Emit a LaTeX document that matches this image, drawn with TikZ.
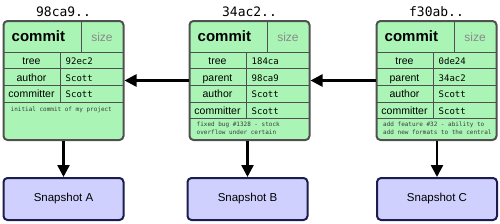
\documentclass[tikz,border=0pt]{standalone}
\usepackage{fontspec}
\setmainfont{Liberation Sans}
\setsansfont{Liberation Sans}
\setmonofont{DejaVu Sans Mono}
\usetikzlibrary{arrows.meta}
\definecolor{commitfill}{HTML}{AAF5B5}
\definecolor{commitline}{HTML}{505050}
\definecolor{snapfill}{HTML}{D0D0FF}
\definecolor{snapline}{HTML}{1C1C4E}
\definecolor{sizegray}{HTML}{8A8A8A}
\definecolor{msggray}{HTML}{3A3A3A}

\begin{document}
\begin{tikzpicture}[x=1pt, y=1pt,
    commit/.style={draw=commitline, fill=commitfill, rounded corners=4pt,
                   line width=2pt, minimum width=120pt, minimum height=119pt,
                   inner sep=0pt},
    snap/.style={draw=snapline, fill=snapfill, rounded corners=4pt,
                 line width=2pt, minimum width=120pt, minimum height=42pt,
                 inner sep=0pt, font=\fontsize{11.5}{13}\selectfont},
    grid/.style={draw=commitline, line width=1pt},
    hash/.style={anchor=base, inner sep=0pt,
                 font=\fontsize{13}{15}\selectfont\ttfamily},
    title/.style={anchor=base west, inner sep=0pt,
                  font=\fontsize{15}{17}\selectfont\bfseries},
    size/.style={anchor=base, inner sep=0pt, text=sizegray,
                 font=\fontsize{12}{14}\selectfont},
    field/.style={anchor=base, inner sep=0pt,
                  font=\fontsize{10.5}{12}\selectfont},
    value/.style={anchor=base west, inner sep=0pt,
                  font=\fontsize{9}{11}\selectfont\ttfamily},
    msg/.style={anchor=north west, inner sep=0pt, align=left, text=msggray,
                font=\fontsize{6}{8.5}\selectfont\ttfamily},
    arrow/.style={draw=black, line width=2.5pt,
                  -{Triangle[width=12pt,length=12pt]}},
]
\useasboundingbox (0,0) rectangle (500,223);

% Commit 98ca9
\node[hash] (h1) at (63.5,206.5) {98ca9..};
\node[commit] (c1) at (63.5,142.5) {};
\draw[grid] (3.5,171) -- +(120,0);
\draw[grid] (3.5,154.3) -- +(120,0);
\draw[grid] (3.5,137.6) -- +(120,0);
\draw[grid] (3.5,120.9) -- +(120,0);
\draw[grid] (81.5,202) -- (81.5,171);
\draw[grid] (60.5,171) -- (60.5,120.9);
\node[title] (t1) at (11.5,181.3) {commit};
\node[size] (z1) at (102,181.3) {size};
\node[field] (f11) at (31.5,158.6) {tree};
\node[field] (f12) at (31.5,141.9) {author};
\node[field] (f13) at (31.5,125.2) {committer};
\node[value] (v11) at (65.5,158.6) {92ec2};
\node[value] (v12) at (65.5,141.9) {Scott};
\node[value] (v13) at (65.5,125.2) {Scott};
\node[msg] (m1) at (10.5,116.5) {initial commit of my project};

% Commit 34ac2
\node[hash] (h2) at (249.5,206.5) {34ac2..};
\node[commit] (c2) at (249.5,142.5) {};
\draw[grid] (189.5,171) -- +(120,0);
\draw[grid] (189.5,154.3) -- +(120,0);
\draw[grid] (189.5,137.6) -- +(120,0);
\draw[grid] (189.5,120.9) -- +(120,0);
\draw[grid] (189.5,104.2) -- +(120,0);
\draw[grid] (267.5,202) -- (267.5,171);
\draw[grid] (246.5,171) -- (246.5,104.2);
\node[title] (t2) at (197.5,181.3) {commit};
\node[size] (z2) at (288,181.3) {size};
\node[field] (f21) at (217.5,158.6) {tree};
\node[field] (f22) at (217.5,141.9) {parent};
\node[field] (f23) at (217.5,125.2) {author};
\node[field] (f24) at (217.5,108.5) {committer};
\node[value] (v21) at (251.5,158.6) {184ca};
\node[value] (v22) at (251.5,141.9) {98ca9};
\node[value] (v23) at (251.5,125.2) {Scott};
\node[value] (v24) at (251.5,108.5) {Scott};
\node[msg] (m2) at (196.5,101.5) {fixed bug \#1328 - stock\\overflow under certain};

% Commit f30ab
\node[hash] (h3) at (436.5,206.5) {f30ab..};
\node[commit] (c3) at (436.5,142.5) {};
\draw[grid] (376.5,171) -- +(120,0);
\draw[grid] (376.5,154.3) -- +(120,0);
\draw[grid] (376.5,137.6) -- +(120,0);
\draw[grid] (376.5,120.9) -- +(120,0);
\draw[grid] (376.5,104.2) -- +(120,0);
\draw[grid] (454.5,202) -- (454.5,171);
\draw[grid] (433.5,171) -- (433.5,104.2);
\node[title] (t3) at (384.5,181.3) {commit};
\node[size] (z3) at (475,181.3) {size};
\node[field] (f31) at (404.5,158.6) {tree};
\node[field] (f32) at (404.5,141.9) {parent};
\node[field] (f33) at (404.5,125.2) {author};
\node[field] (f34) at (404.5,108.5) {committer};
\node[value] (v31) at (438.5,158.6) {0de24};
\node[value] (v32) at (438.5,141.9) {34ac2};
\node[value] (v33) at (438.5,125.2) {Scott};
\node[value] (v34) at (438.5,108.5) {Scott};
\node[msg] (m3) at (383,101.5) {add feature \#32 - ability to\\add new formats to the central};

% Snapshots
\node[snap] (s1) at (63.5,24) {Snapshot A};
\node[snap] (s2) at (247.5,24) {Snapshot B};
\node[snap] (s3) at (437,24) {Snapshot C};

% Arrows
\draw[arrow] (c2.west) -- (c1.east);
\draw[arrow] (c3.west) -- (c2.east);
\draw[arrow] (s1.north |- c1.south) -- (s1.north);
\draw[arrow] (s2.north |- c2.south) -- (s2.north);
\draw[arrow] (s3.north |- c3.south) -- (s3.north);

\end{tikzpicture}
\end{document}
